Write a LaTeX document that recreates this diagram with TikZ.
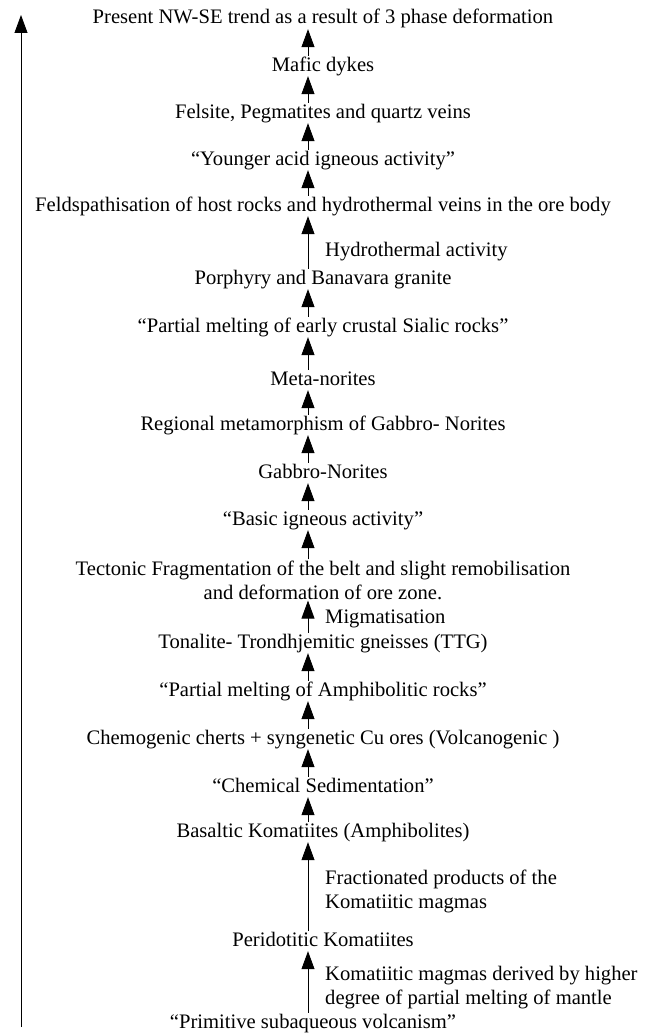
\documentclass[tikz,border=0pt]{standalone}
\usepackage{fontspec}
\setmainfont{Liberation Serif}
\usetikzlibrary{arrows.meta}
\tikzset{
  base/.style={inner sep=1pt, font=\fontsize{20.6}{24}\selectfont},
  stage/.style={base, text height=14pt, text depth=4pt},
  multi/.style={base, align=center},
  note/.style={base, align=left, anchor=west},
  link/.style={-{Triangle[length=18pt,width=13pt]}, line width=0.8pt},
}
\begin{document}
\begin{tikzpicture}[x=1pt,y=-1pt]
        \useasboundingbox (0,0) rectangle (654,1033);

        % stages, youngest on top
        \node[stage] at (323,19) (present) {Present NW-SE trend as a result of 3 phase deformation};
        \node[stage] at (323,66) (mafic) {Mafic dykes};
        \node[stage] at (323,113) (felsite) {Felsite, Pegmatites and quartz veins};
        \node[stage] at (323,160) (younger) {“Younger acid igneous activity”};
        \node[stage] at (323,206) (feldspath) {Feldspathisation of host rocks and hydrothermal veins in the ore body};
        \node[stage] at (323,279) (porphyry) {Porphyry and Banavara granite};
        \node[stage] at (323,327) (crustal) {“Partial melting of early crustal Sialic rocks”};
        \node[stage] at (323,380) (metanorites) {Meta-norites};
        \node[stage] at (323,425) (regional) {Regional metamorphism of Gabbro- Norites};
        \node[stage] at (323,473) (gabbro) {Gabbro-Norites};
        \node[stage] at (323,520) (basic) {“Basic igneous activity”};
        \node[multi] at (323,580) (tectonic) {Tectonic Fragmentation of the belt and slight remobilisation\\and deformation of ore zone.};
        \node[stage] at (323,643) (ttg) {Tonalite- Trondhjemitic gneisses (TTG)};
        \node[stage] at (323,691) (amphibolitic) {“Partial melting of Amphibolitic rocks”};
        \node[stage] at (323,739) (chemogenic) {Chemogenic cherts + syngenetic Cu ores (Volcanogenic )};
        \node[stage] at (323,787) (sedimentation) {“Chemical Sedimentation”};
        \node[stage] at (323,832) (basaltic) {Basaltic Komatiites (Amphibolites)};
        \node[stage] at (323,941) (peridotitic) {Peridotitic Komatiites};
        \node[stage] at (313,1023) (primitive) {“Primitive subaqueous volcanism”};

        % side notes
        \node[note] at (324,252) (hydrothermal) {Hydrothermal activity};
        \node[note] at (324,619) (migmatisation) {Migmatisation};
        \node[note] at (324,891) (fractionated) {Fractionated products of the\\Komatiitic magmas};
        \node[note] at (324,988) (komatiitic) {Komatiitic magmas derived by higher\\degree of partial melting of mantle};

        % links
        \coordinate (axis) at (308,0);
        \draw[link] (mafic.north-|axis) -- (present.south-|axis);
        \draw[link] (felsite.north-|axis) -- (mafic.south-|axis);
        \draw[link] (younger.north-|axis) -- (felsite.south-|axis);
        \draw[link] (feldspath.north-|axis) -- (younger.south-|axis);
        \draw[link] (porphyry.north-|axis) -- (feldspath.south-|axis);
        \draw[link] (crustal.north-|axis) -- (porphyry.south-|axis);
        \draw[link] (metanorites.north-|axis) -- (crustal.south-|axis);
        \draw[link] (regional.north-|axis) -- (metanorites.south-|axis);
        \draw[link] (gabbro.north-|axis) -- (regional.south-|axis);
        \draw[link] (basic.north-|axis) -- (gabbro.south-|axis);
        \draw[link] (tectonic.north-|axis) -- (basic.south-|axis);
        \draw[link] (ttg.north-|axis) -- (tectonic.south-|axis);
        \draw[link] (amphibolitic.north-|axis) -- (ttg.south-|axis);
        \draw[link] (chemogenic.north-|axis) -- (amphibolitic.south-|axis);
        \draw[link] (sedimentation.north-|axis) -- (chemogenic.south-|axis);
        \draw[link] (basaltic.north-|axis) -- (sedimentation.south-|axis);
        \draw[link] (peridotitic.north-|axis) -- (basaltic.south-|axis);
        \draw[link] (primitive.north-|axis) -- (peridotitic.south-|axis);

        % time axis
        \coordinate (older) at (21,1027);
        \coordinate (later) at (21,15);
        \draw[link] (older) -- (later);
    \end{tikzpicture}
\end{document}
